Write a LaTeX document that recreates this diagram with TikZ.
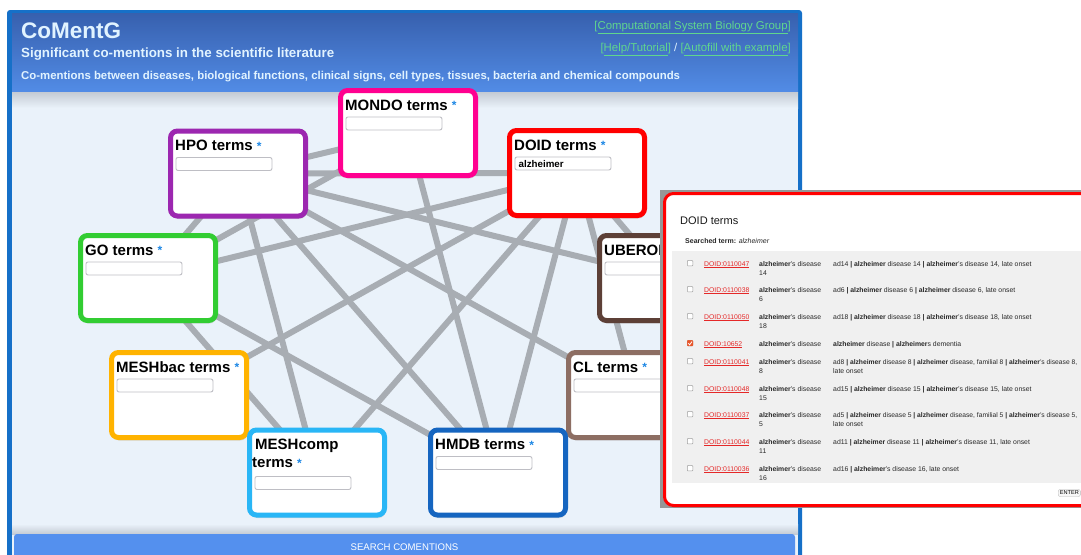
\documentclass[tikz,border=0pt]{standalone}
\usepackage{fontspec}
\setmainfont{Liberation Sans}
\usetikzlibrary{shadows}
\definecolor{frameblue}{RGB}{22,112,200}
\definecolor{headtop}{RGB}{55,96,174}
\definecolor{headbot}{RGB}{82,140,230}
\definecolor{bodybg}{RGB}{234,242,250}
\definecolor{hshadow}{RGB}{196,203,212}
\definecolor{headtext}{RGB}{225,243,255}
\definecolor{linkgreen}{RGB}{96,214,142}
\definecolor{edgegray}{RGB}{168,173,179}
\definecolor{starblue}{RGB}{30,136,229}
\definecolor{mondocol}{RGB}{255,0,144}
\definecolor{hpocol}{RGB}{156,39,176}
\definecolor{doidcol}{RGB}{255,0,0}
\definecolor{gocol}{RGB}{50,205,50}
\definecolor{ubercol}{RGB}{93,64,55}
\definecolor{baccol}{RGB}{255,179,0}
\definecolor{clcol}{RGB}{141,110,99}
\definecolor{compcol}{RGB}{41,182,246}
\definecolor{hmdbcol}{RGB}{21,101,192}
\definecolor{inputgray}{RGB}{190,190,196}
\definecolor{btnblue}{RGB}{84,144,238}
\definecolor{popshade}{RGB}{150,150,150}
\definecolor{tablegray}{RGB}{240,240,240}
\definecolor{linkred}{RGB}{229,40,40}
\definecolor{textdark}{RGB}{40,40,40}
\definecolor{checkcol}{RGB}{232,84,40}
\pgfdeclarelayer{back}
\pgfdeclarelayer{edges}
\pgfsetlayers{back,edges,main}
\newcommand\reqstar{\ {\color{starblue}\fontsize{12}{12}\selectfont\raisebox{0.5pt}{*}}}
\newcommand\alz{\textbf{alzheimer}}
\newcommand\sepbar{\textbf{|}}
\newcommand\termtitle[3]{%
  \node[ttl] (#1-title) at ([xshift=7pt,yshift=-22pt]#1.north west) {#2\reqstar};
  \node[inbox] (#1-input) at ([xshift=7.5pt,yshift=-28.5pt]#1.north west) {#3};
}
\newcommand\prow[6]{%
  \node[cbox] (cb#1) at (690,#2-2.8) {};
  \node[ptxt,text=linkred] (id#1) at (704,#2) {\underline{DOID:#3}};
  \node[ptxt] (nm#1) at (759,#2) {\alz's disease};
  \node[ptxt] (nn#1) at (759,#2+9) {#4};
  \node[ptxt] (sy#1) at (833,#2) {#5};
  \node[ptxt] (sz#1) at (833,#2+9) {#6};
}
\begin{document}
\begin{tikzpicture}[x=1pt,y=-1pt,
  termbox/.style={draw=#1, line width=5pt, fill=white, rounded corners=7pt,
    minimum width=135pt, minimum height=85pt, inner sep=0pt,
    drop shadow={shadow xshift=1pt, shadow yshift=-3pt, opacity=0.22}},
  ttl/.style={anchor=base west, inner sep=0pt, font=\fontsize{15}{18}\selectfont\bfseries, text=black},
  inbox/.style={draw=inputgray, line width=0.9pt, fill=white, rounded corners=2pt,
    minimum width=96pt, minimum height=13pt, inner sep=0pt, anchor=north west},
  edge/.style={draw=edgegray, line width=6pt},
  hdr/.style={anchor=base west, inner sep=0pt, text=headtext},
  lnk/.style={anchor=base east, inner sep=0pt, text=linkgreen, font=\fontsize{11.4}{13}\selectfont},
  ptxt/.style={anchor=base west, inner sep=0pt, font=\fontsize{6.85}{9}\selectfont, text=textdark},
  cbox/.style={draw=gray!75, fill=white, line width=0.5pt, minimum size=5.5pt, inner sep=0pt, rounded corners=0.8pt},
]
\useasboundingbox (0,0) rectangle (1081,554);

% ---- page frame
\begin{pgfonlayer}{back}
  \fill[white] (0,0) rectangle (1081,554);
  \fill[frameblue, rounded corners=3pt] (7,10) rectangle (802,600);
  \fill[bodybg] (12,92) rectangle (798,600);
  \shade[top color=headtop, bottom color=headbot] (12,13) rectangle (798,92);
  \shade[top color=hshadow, bottom color=bodybg] (12,92) rectangle (798,108);
  \shade[top color=bodybg, bottom color=hshadow] (12,524) rectangle (798,534);
\end{pgfonlayer}

% ---- header texts
\node[hdr, font=\fontsize{22.5}{27}\selectfont\bfseries] (appname) at (21,38) {CoMentG};
\node[hdr, font=\fontsize{13.35}{16}\selectfont\bfseries] (subtitle) at (21,57) {Significant co-mentions in the scientific literature};
\node[hdr, font=\fontsize{11.4}{14}\selectfont\bfseries] (desc) at (21,79) {Co-mentions between diseases, biological functions, clinical signs, cell types, tissues, bacteria and chemical compounds};
\node[lnk] (csbg) at (791,29) {[\underline{Computational System Biology Group}]};
\node[lnk] (help) at (791,51) {[\underline{Help/Tutorial}] {\color{headtext}/} [\underline{Autofill with example}]};

% ---- term boxes
\node[termbox=mondocol] (mondo) at (408,133) {};
\node[termbox=hpocol] (hpo) at (238,173.5) {};
\node[termbox=doidcol] (doid) at (577,173) {};
\node[termbox=gocol] (go) at (148,278) {};
\node[termbox=ubercol] (uberon) at (667,278) {};
\node[termbox=baccol] (meshbac) at (179,395) {};
\node[termbox=clcol] (cl) at (636,395) {};
\node[termbox=compcol] (meshcomp) at (317,472.5) {};
\node[termbox=hmdbcol] (hmdb) at (498,472.5) {};

\termtitle{mondo}{MONDO terms}{}
\termtitle{hpo}{HPO terms}{}
\termtitle{doid}{DOID terms}{}
\termtitle{go}{GO terms}{}
\termtitle{uberon}{UBERON terms}{}
\termtitle{meshbac}{MESHbac terms}{}
\termtitle{cl}{CL terms}{}
\termtitle{hmdb}{HMDB terms}{}
\node[ttl] (meshcomp-title) at ([xshift=8pt,yshift=-22pt]meshcomp.north west) {MESHcomp};
\node[ttl] (meshcomp-title2) at ([xshift=5pt,yshift=-40pt]meshcomp.north west) {terms\reqstar};
\node[inbox] (meshcomp-input) at ([xshift=7.5pt,yshift=-48.5pt]meshcomp.north west) {};
\node[anchor=base west, inner sep=0pt, font=\fontsize{9.75}{11}\selectfont\bfseries] (doid-query) at ([xshift=4pt,yshift=-10.5pt]doid-input.north west) {alzheimer};

% ---- co-mention edges
\begin{pgfonlayer}{edges}
\foreach \a/\b in {hpo/mondo, hpo/doid, hpo/uberon, hpo/cl, hpo/meshcomp, hpo/hmdb, hpo/go,
  go/mondo, go/doid, go/hmdb, go/meshcomp,
  doid/meshbac, doid/meshcomp, doid/hmdb, doid/cl, doid/uberon,
  mondo/hmdb}
  \draw[edge] (\a.center) -- (\b.center);
\end{pgfonlayer}

% ---- search button
\node[fill=btnblue, rounded corners=3pt, minimum width=781pt, minimum height=26pt, inner sep=0pt,
  text=white, font=\fontsize{9.6}{10}\selectfont] (search) at (404.5,547) {SEARCH COMENTIONS};

% ---- DOID popup
\fill[popshade] (660,190) rectangle (1090,508);
\draw[doidcol, line width=3pt, fill=white, rounded corners=9pt] (664.5,193.5) rectangle (1100,505.5);
\fill[tablegray] (672,251) rectangle (1090,483);
\node[anchor=base west, inner sep=0pt, font=\fontsize{11}{13}\selectfont, text=black!90] (poptitle) at (680,224) {DOID terms};
\node[anchor=base west, inner sep=0pt, font=\fontsize{7}{9}\selectfont, text=textdark] (searched) at (685,243) {\textbf{Searched term:} \textit{alzheimer}};

\prow{1}{266}{0110047}{14}{ad14 \sepbar{} \alz{} disease 14 \sepbar{} \alz's disease 14, late onset}{}
\prow{2}{292}{0110038}{6}{ad6 \sepbar{} \alz{} disease 6 \sepbar{} \alz{} disease 6, late onset}{}
\prow{3}{319}{0110050}{18}{ad18 \sepbar{} \alz{} disease 18 \sepbar{} \alz's disease 18, late onset}{}
\prow{4}{346}{10652}{}{\alz{} disease \sepbar{} \alz{}s dementia}{}
\prow{5}{364}{0110041}{8}{\resizebox{244pt}{!}{ad8 \sepbar{} \alz{} disease 8 \sepbar{} \alz{} disease, familial 8 \sepbar{} \alz's disease 8,}}{late onset}
\prow{6}{391}{0110048}{15}{ad15 \sepbar{} \alz{} disease 15 \sepbar{} \alz's disease 15, late onset}{}
\prow{7}{417}{0110037}{5}{\resizebox{244pt}{!}{ad5 \sepbar{} \alz{} disease 5 \sepbar{} \alz{} disease, familial 5 \sepbar{} \alz's disease 5,}}{late onset}
\prow{8}{444}{0110044}{11}{ad11 \sepbar{} \alz{} disease 11 \sepbar{} \alz's disease 11, late onset}{}
\prow{9}{471}{0110036}{16}{ad16 \sepbar{} \alz's disease 16, late onset}{}
% checked box of row 4
\node[cbox, draw=checkcol, fill=checkcol] (cb4c) at (cb4) {};
\draw[white, line width=0.8pt] (688.2,343.3) -- (689.6,344.8) -- (692,341.6);

\node[draw=gray!55, fill=gray!6, rounded corners=2pt, inner sep=1.6pt, anchor=west,
  font=\fontsize{5.6}{6}\selectfont] (enter) at (1058,493) {ENTER};
\end{tikzpicture}
\end{document}
